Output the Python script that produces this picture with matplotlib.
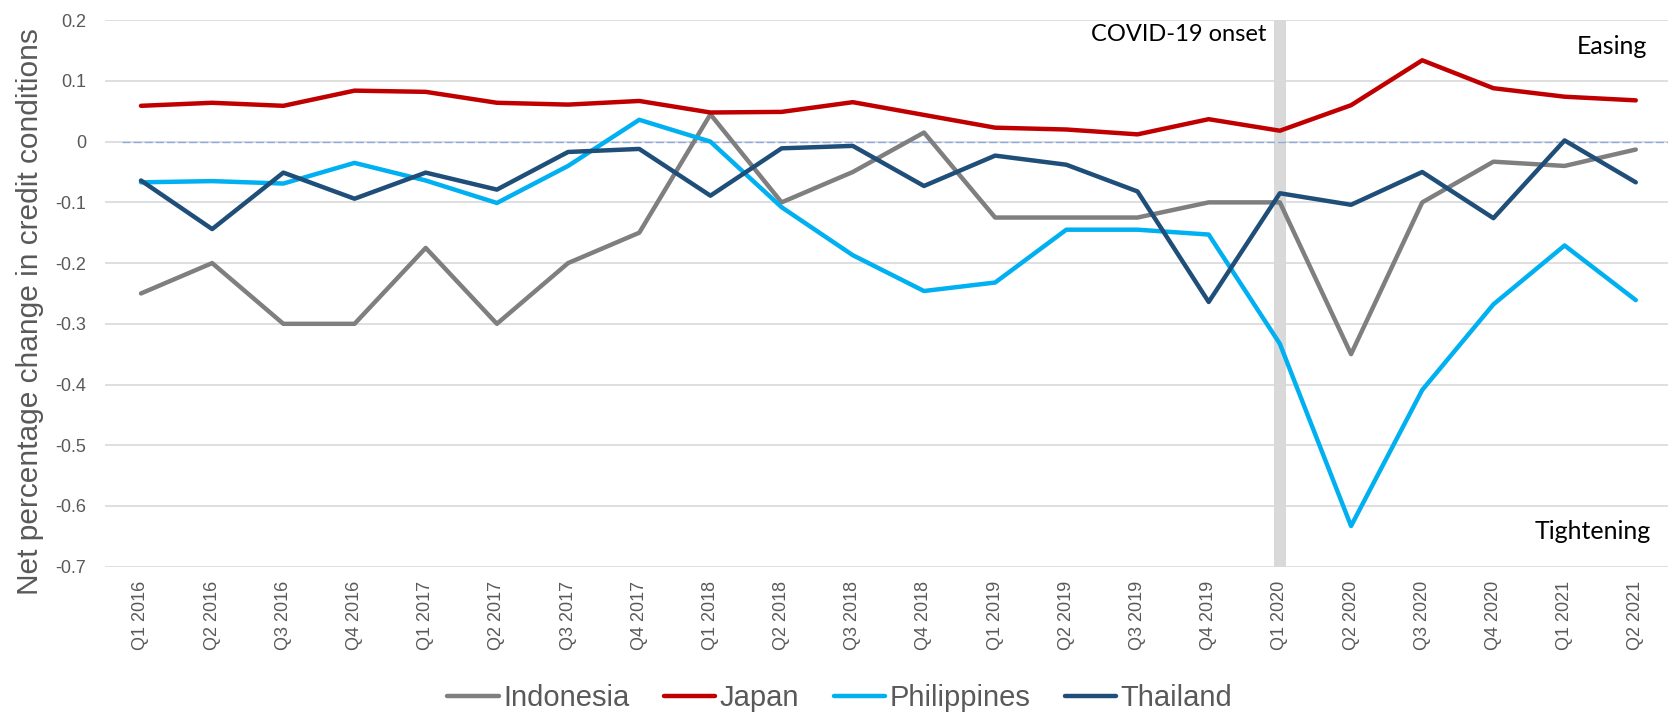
import matplotlib
matplotlib.use("Agg")
import matplotlib.pyplot as plt
from matplotlib.lines import Line2D

categories = ["Q1 2016", "Q2 2016", "Q3 2016", "Q4 2016",
              "Q1 2017", "Q2 2017", "Q3 2017", "Q4 2017",
              "Q1 2018", "Q2 2018", "Q3 2018", "Q4 2018",
              "Q1 2019", "Q2 2019", "Q3 2019", "Q4 2019",
              "Q1 2020", "Q2 2020", "Q3 2020", "Q4 2020",
              "Q1 2021", "Q2 2021"]

indonesia = [-0.25, -0.2, -0.3, -0.3, -0.175, -0.3, -0.2, -0.15,
             0.045, -0.1, -0.05, 0.015, -0.125, -0.125, -0.125, -0.1,
             -0.1, -0.35, -0.1, -0.033, -0.04, -0.013]
japan = [0.059, 0.064, 0.059, 0.084, 0.082, 0.064, 0.061, 0.067,
         0.048, 0.049, 0.065, 0.044, 0.023, 0.020, 0.012, 0.037,
         0.018, 0.060, 0.134, 0.088, 0.074, 0.068]
philippines = [-0.067, -0.065, -0.069, -0.035, -0.064, -0.101, -0.040, 0.036,
               0.0, -0.108, -0.187, -0.246, -0.232, -0.145, -0.145, -0.153,
               -0.333, -0.633, -0.409, -0.268, -0.171, -0.261]
thailand = [-0.064, -0.144, -0.051, -0.094, -0.051, -0.079, -0.017, -0.012,
            -0.089, -0.011, -0.007, -0.073, -0.023, -0.038, -0.082, -0.264,
            -0.085, -0.104, -0.050, -0.126, 0.002, -0.067]

series_names = ["Indonesia", "Japan", "Philippines", "Thailand"]
series_values = [indonesia, japan, philippines, thailand]
series_colors = ["#7f7f7f", "#c00000", "#00b0f0", "#1f4e79"]

covid_category = "Q1 2020"
yticks = [0.2, 0.1, 0, -0.1, -0.2, -0.3, -0.4, -0.5, -0.6, -0.7]
ytick_labels = ["0.2", "0.1", "0", "-0.1", "-0.2", "-0.3", "-0.4", "-0.5", "-0.6", "-0.7"]

W, H = 1668, 714
fig = plt.figure(figsize=(W / 100, H / 100), dpi=100)
fig.patch.set_facecolor("white")

left_px, right_px = 105.4, 105.4 + 22 * 71.18
top_px, bottom_px = 20.2, 566.7
ax = fig.add_axes([left_px / W, 1 - bottom_px / H,
                   (right_px - left_px) / W, (bottom_px - top_px) / H])

x = list(range(len(categories)))
ax.set_xlim(-0.5, len(categories) - 0.5)
ax.set_ylim(-0.7, 0.2)

for s in ax.spines.values():
    s.set_visible(False)

ax.set_yticks(yticks)
ax.set_yticklabels(ytick_labels)
ax.set_xticks(x)
ax.set_xticklabels(categories, rotation=90)
ax.tick_params(axis="both", length=0, colors="#595959")
ax.tick_params(axis="y", pad=14, labelsize=13)
ax.tick_params(axis="x", pad=10.3, labelsize=13)
for lab in ax.get_xticklabels() + ax.get_yticklabels():
    lab.set_fontfamily(["Liberation Sans", "DejaVu Sans"])

ax.yaxis.grid(True, color="#d9d9d9", linewidth=1.2, zorder=0)
ax.set_axisbelow(True)

# COVID-19 onset band
ci = categories.index(covid_category)
ax.axvspan(ci - 0.085, ci + 0.085, color="#d9d9d9", lw=0, zorder=1)

# zero reference line
ax.plot([-0.27, len(categories) - 0.5], [0, 0], color="#8faadc", lw=1.0,
        linestyle=(0, (5.8, 2.2)), zorder=2)

for name, vals, col in zip(series_names, series_values, series_colors):
    ax.plot(x, vals, color=col, lw=3.2, solid_capstyle="round",
            solid_joinstyle="round", zorder=3, label=name)

# y axis label
fig.text(30 / W, 1 - 312 / H, "Net percentage change in credit conditions",
         rotation=90, ha="center", va="center", color="#595959",
         fontsize=21.5, family=["Liberation Sans", "DejaVu Sans"])

# annotations
ann_font = ["Lato", "DejaVu Sans"]
fig.text(1266.7 / W, 1 - 41 / H, "COVID-19 onset", ha="right", va="baseline",
         fontsize=17, color="black", family=ann_font)
fig.text(1647 / W, 1 - 54 / H, "Easing", ha="right", va="baseline",
         fontsize=18, color="black", family=ann_font)
fig.text(1651 / W, 1 - 539 / H, "Tightening", ha="right", va="baseline",
         fontsize=18, color="black", family=ann_font)

handles = [Line2D([0], [0], color=c, lw=3.2, solid_capstyle="round")
           for c in series_colors]
leg = fig.legend(handles, series_names, loc="center", ncol=4,
                 bbox_to_anchor=(840 / W, 1 - 698 / H), frameon=False,
                 handlelength=1.75, handletextpad=0.15, columnspacing=1.2,
                 borderpad=0, prop={"family": ["Liberation Sans", "DejaVu Sans"], "size": 21})
for t in leg.get_texts():
    t.set_color("#595959")

fig.savefig("out.png", dpi=100, facecolor="white")
